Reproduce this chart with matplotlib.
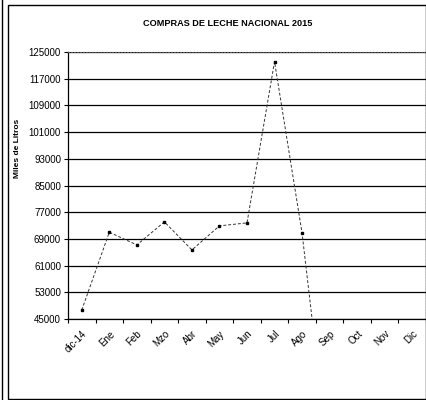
import numpy as np
import matplotlib.pyplot as plt
from matplotlib.lines import Line2D
from matplotlib.patches import Rectangle

plt.rcParams["font.family"] = ["Liberation Sans", "DejaVu Sans"]

# Monthly milk purchases (miles de litros)
meses = ["dic-14", "Ene", "Feb", "Mzo", "Abr", "May", "Jun",
         "Jul", "Ago", "Sep", "Oct", "Nov", "Dic"]
compras = [47700, 71000, 67200, 74100, 65700, 72900, 73800,
           122100, 70700, 0]
y_ticks = [45000, 53000, 61000, 69000, 77000, 85000, 93000,
           101000, 109000, 117000, 125000]

fig = plt.figure(figsize=(4.27, 4.0), dpi=100)
ax = fig.add_axes([68 / 427, 1 - 319 / 400, 358 / 427, 267 / 400])

x = np.arange(len(compras))
ax.plot(x, compras, color="#333333", linewidth=0.7, linestyle=(0, (3, 2)),
        marker="s", markersize=1.8, markerfacecolor="black",
        markeredgecolor="black", clip_on=True)

ax.set_xlim(-0.5, len(meses) - 0.5)
ax.set_ylim(y_ticks[0], y_ticks[-1])
ax.set_yticks(y_ticks)
ax.set_yticklabels([str(v) for v in y_ticks], fontsize=7)
ax.yaxis.grid(True, color="black", linewidth=0.9)
ax.tick_params(axis="y", length=3, width=0.8, pad=2)

ax.set_xticks(np.arange(len(meses)))
ax.set_xticklabels(meses, rotation=45, ha="right", va="top",
                   rotation_mode="anchor", fontsize=7)
ax.set_xticks(np.arange(len(meses) + 1) - 0.5, minor=True)
ax.tick_params(axis="x", which="major", length=0, pad=7)
ax.tick_params(axis="x", which="minor", length=3, width=0.8)

for side in ["top", "right"]:
    ax.spines[side].set_linestyle(":")
    ax.spines[side].set_color("#555555")
    ax.spines[side].set_linewidth(0.8)
for side in ["left", "bottom"]:
    ax.spines[side].set_linewidth(0.9)

ax.set_ylabel("Miles de Litros", fontsize=6, fontweight="bold")
ax.yaxis.set_label_coords(-0.13, 0.64)

fig.text(228 / 427, 1 - 23 / 400, "COMPRAS DE LECHE NACIONAL 2015",
         ha="center", va="center", fontsize=6.6, fontweight="bold")

# chart frame and scan edge
fig.patches.append(Rectangle((8 / 427, 0.002), 418 / 427, 1 - 5 / 400 - 0.002,
                             transform=fig.transFigure, fill=False,
                             edgecolor="black", linewidth=1.0))
fig.lines.append(Line2D([2 / 427, 2 / 427], [0, 1], transform=fig.transFigure,
                        color="black", linewidth=1.0))

fig.savefig("out.png", dpi=100)
